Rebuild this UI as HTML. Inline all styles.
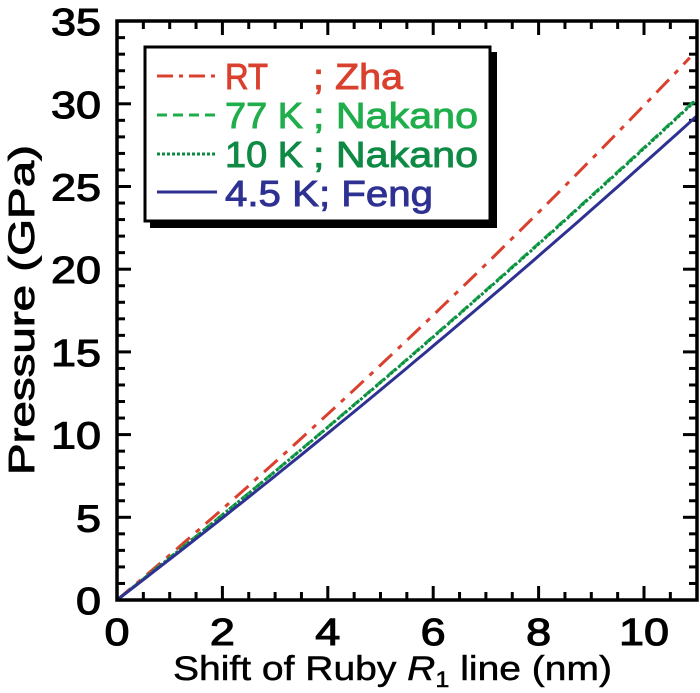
<!DOCTYPE html>
<html><head><meta charset="utf-8"><style>body{margin:0;background:#fff}svg{display:block}</style></head>
<body>
<svg width="700" height="693" viewBox="0 0 700 693" xmlns="http://www.w3.org/2000/svg" font-family="Liberation Sans, Arial, sans-serif">
<g id="ticks" stroke="#000" stroke-width="3"></g>
<g id="lines" fill="none" stroke-width="3"></g>
<rect x="117" y="21" width="580" height="579" fill="none" stroke="#000" stroke-width="3.5"/>
<!-- legend -->
<rect x="150" y="52" width="347" height="176" fill="#000"/>
<rect x="145" y="47" width="345" height="174" fill="#fff" stroke="#000" stroke-width="3"/>
<line x1="157" y1="76" x2="217" y2="76" stroke="#d9412e" stroke-width="3" stroke-dasharray="16,6,4,6"/>
<line x1="157" y1="115" x2="217" y2="115" stroke="#1fae4b" stroke-width="3" stroke-dasharray="10,6"/>
<line x1="157" y1="154" x2="217" y2="154" stroke="#0e8a45" stroke-width="3" stroke-dasharray="3,2"/>
<line x1="157" y1="192" x2="217" y2="192" stroke="#2e3192" stroke-width="3"/>
<g font-size="36" stroke-width="0.9">
<text x="225" y="89" fill="#d9412e" stroke="#d9412e" textLength="43" lengthAdjust="spacingAndGlyphs">RT</text><text x="313" y="89" fill="#d9412e" stroke="#d9412e" textLength="90" lengthAdjust="spacingAndGlyphs">; Zha</text>
<text x="225" y="128" fill="#1fae4b" stroke="#1fae4b" textLength="78" lengthAdjust="spacingAndGlyphs">77 K</text><text x="313" y="128" fill="#1fae4b" stroke="#1fae4b" textLength="165" lengthAdjust="spacingAndGlyphs">; Nakano</text>
<text x="225" y="167" fill="#0e8a45" stroke="#0e8a45" textLength="78" lengthAdjust="spacingAndGlyphs">10 K</text><text x="313" y="167" fill="#0e8a45" stroke="#0e8a45" textLength="165" lengthAdjust="spacingAndGlyphs">; Nakano</text>
<text x="225" y="206" fill="#2e3192" stroke="#2e3192" textLength="208" lengthAdjust="spacingAndGlyphs">4.5 K; Feng</text>
</g>
<g id="labels" font-size="38" fill="#000" stroke="#000" stroke-width="1.1"></g>
<text x="173" y="680" font-size="34" stroke="#000" stroke-width="0.5" textLength="439" lengthAdjust="spacingAndGlyphs">Shift of Ruby <tspan font-style="italic">R</tspan><tspan font-size="22" dy="7">1</tspan><tspan dy="-7"> line (nm)</tspan></text>
<text transform="translate(34,310) rotate(-90)" font-size="36" stroke="#000" stroke-width="0.9" x="-165" textLength="330" lengthAdjust="spacingAndGlyphs">Pressure (GPa)</text>
<script>
var X0=117,Y0=600,SX=52.7,SY=16.54,ns="http://www.w3.org/2000/svg";
function el(p,t,a,txt){var e=document.createElementNS(ns,t);for(var k in a)e.setAttribute(k,a[k]);if(txt!=null)e.textContent=txt;document.getElementById(p).appendChild(e);return e;}
for(var i=1;i<22;i++){var x=X0+i*0.5*SX;var L=(i%4==0)?14:8;
el('ticks','line',{x1:x,y1:Y0,x2:x,y2:Y0-L});el('ticks','line',{x1:x,y1:21,x2:x,y2:21+L});}
for(var j=1;j<35;j++){var y=Y0-j*SY;var L=(j%5==0)?14:8;
el('ticks','line',{x1:X0,y1:y,x2:X0+L,y2:y});el('ticks','line',{x1:697,y1:y,x2:697-L,y2:y});}
for(var j=0;j<=35;j+=5){var w=j<10?25:50;el('labels','text',{x:101-w,y:Y0-j*SY+14,textLength:w,lengthAdjust:'spacingAndGlyphs'},j);}
for(var i=0;i<=10;i+=2){var w=i<10?25:50;el('labels','text',{x:X0+i*SX-w/2,y:645,textLength:w,lengthAdjust:'spacingAndGlyphs'},i);}
var S=[['#d9412e','18,8,5,8',2.69,0.03,10.87],['#1fae4b','10,6',2.535,0.02,11],['#0e8a45','3,2',2.53,0.02,11],['#2e3192','',2.44,0.02,11]];
S.forEach(function(s){var d='';for(var k=0;k<=60;k++){var x=s[4]*k/60,p=s[2]*x+s[3]*x*x;d+=(k?'L':'M')+(X0+x*SX).toFixed(1)+','+(Y0-p*SY).toFixed(1);}
var a={d:d,stroke:s[0]};if(s[1])a['stroke-dasharray']=s[1];el('lines','path',a);});
</script>
</svg>
</body></html>
